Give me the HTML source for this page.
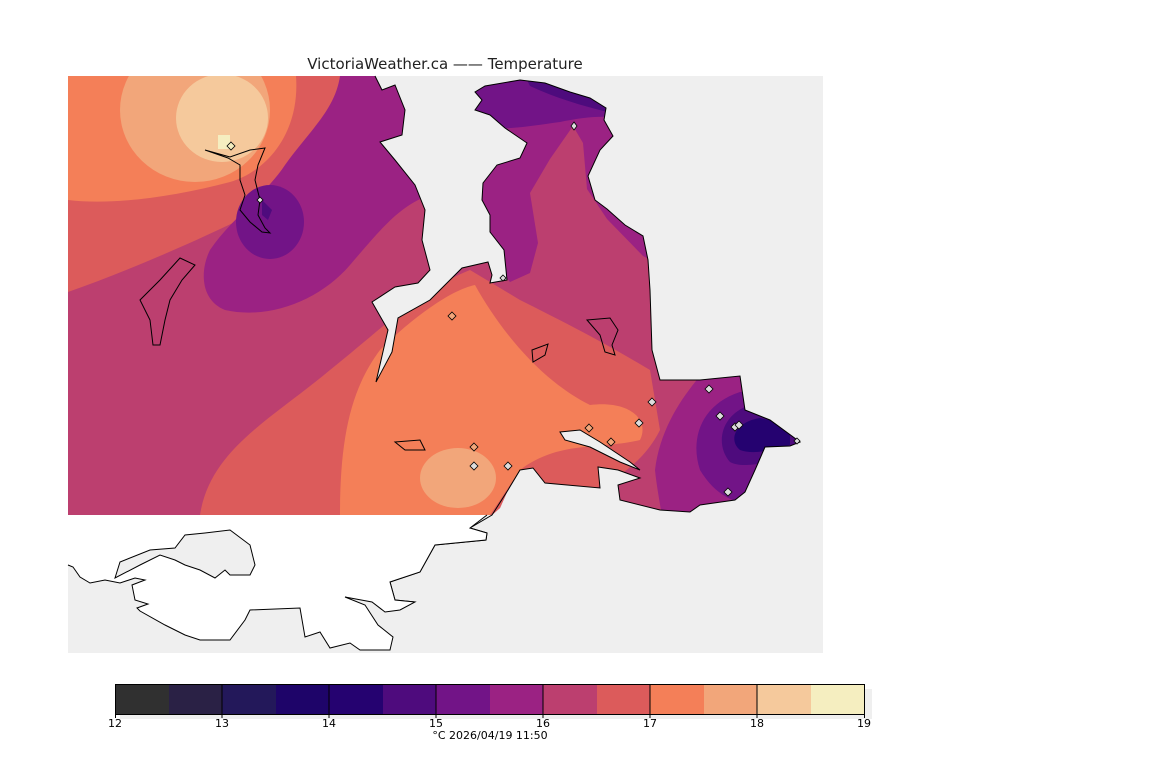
<!DOCTYPE html>
<html><head><meta charset="utf-8"><style>
body{margin:0;background:#fff;width:1152px;height:768px;overflow:hidden}
svg{display:block}
text{font-family:"DejaVu Sans","Liberation Sans",sans-serif}
</style></head><body>
<svg width="1152" height="768" viewBox="0 0 1152 768">
<defs>
<clipPath id="land"><path id="lp" d="M68,76 L375,76 L382,90 L395,85 L405,110 L402,135 L380,142 L395,160 L415,185 L425,210 L422,240 L430,270 L418,283 L395,287 L372,302 L388,330 L376,382 L392,352 L398,318 L430,300 L462,268 L488,262 L492,275 L490,283 L507,280 L504,250 L490,232 L490,215 L482,200 L483,183 L497,165 L520,158 L527,143 L505,128 L490,115 L475,110 L482,100 L475,92 L485,86 L520,80 L545,83 L570,92 L590,98 L606,108 L604,120 L613,136 L600,150 L588,176 L595,200 L607,209 L625,225 L643,236 L648,260 L650,290 L652,350 L660,380 L700,380 L740,376 L745,410 L770,420 L800,442 L790,446 L765,447 L755,470 L745,492 L735,500 L700,505 L690,512 L660,510 L620,500 L618,485 L640,478 L618,470 L598,467 L600,488 L545,483 L533,468 L520,470 L508,490 L500,508 L492,515 L68,515 Z"/></clipPath>
</defs>
<rect x="68" y="76" width="755" height="577" fill="#efefef"/>
<g clip-path="url(#land)">
<rect x="68" y="76" width="760" height="440" fill="#bc3f6f"/>
<path d="M68,76 L345,76 C345,140 320,180 270,205 C200,240 130,270 68,292 Z" fill="#dc5b5b"/>
<path d="M68,76 L296,76 C300,130 270,170 230,182 C170,198 110,205 68,200 Z" fill="#f47f58"/>
<ellipse cx="195" cy="110" rx="75" ry="72" fill="#f2a67a"/>
<ellipse cx="222" cy="118" rx="46" ry="44" fill="#f5c99c"/>
<rect x="218" y="135" width="12" height="14" fill="#f5eec0"/>
<path d="M340,76 L430,76 L430,195 C400,205 380,230 350,265 C320,300 270,320 225,310 C200,300 200,270 210,250 C230,220 265,195 285,165 C310,130 335,110 340,76 Z" fill="#9b2283"/>
<ellipse cx="270" cy="222" rx="34" ry="37" fill="#721487"/>
<path d="M262,200 L272,210 L268,220 L262,215 Z" fill="#4e0b7d"/>
<path d="M200,515 C210,450 270,420 330,370 C380,330 420,290 470,270 L520,300 C560,320 600,340 650,370 L660,430 C640,470 600,490 560,500 L530,515 Z" fill="#dc5b5b"/>
<path d="M340,515 C340,440 350,390 380,350 C410,320 450,290 475,285 C500,330 540,380 590,405 C630,400 650,420 640,440 C600,450 560,440 520,470 L490,515 Z" fill="#f47f58"/>
<ellipse cx="458" cy="478" rx="38" ry="30" fill="#f2a67a"/>
<!-- right peninsula -->
<path d="M460,76 L660,76 L660,265 L643,256 L607,219 L587,189 L583,143 L573,126 L550,159 L530,193 L538,243 L530,273 L510,282 L500,270 L495,240 L480,215 L460,210 Z" fill="#9b2283"/>
<path d="M460,76 L620,76 L620,118 C600,115 580,118 560,122 C530,126 510,130 480,128 L460,128 Z" fill="#721487"/>
<path d="M525,76 L620,76 L620,115 C590,108 560,100 530,86 Z" fill="#4e0b7d"/>
<path d="M545,76 L605,76 L605,100 C580,92 560,85 545,80 Z" fill="#250270"/>
<path d="M820,376 L700,376 C680,400 660,430 655,470 C658,500 665,520 660,530 L830,530 Z" fill="#9b2283"/>
<path d="M820,390 L740,392 C700,405 690,440 700,470 C715,495 735,505 760,505 L830,505 Z" fill="#721487"/>
<path d="M820,405 L750,405 C720,415 715,445 730,462 C745,470 770,460 830,455 Z" fill="#4e0b7d"/>
<path d="M760,418 C735,422 728,440 740,450 C755,455 770,450 790,445 L790,425 Z" fill="#250270"/>
</g>
<path d="M375,76 L382,90 L395,85 L405,110 L402,135 L380,142 L395,160 L415,185 L425,210 L422,240 L430,270 L418,283 L395,287 L372,302 L388,330 L376,382 L392,352 L398,318 L430,300 L462,268 L488,262 L492,275 L490,283 L507,280 L504,250 L490,232 L490,215 L482,200 L483,183 L497,165 L520,158 L527,143 L505,128 L490,115 L475,110 L482,100 L475,92 L485,86 L520,80 L545,83 L570,92 L590,98 L606,108 L604,120 L613,136 L600,150 L588,176 L595,200 L607,209 L625,225 L643,236 L648,260 L650,290 L652,350 L660,380 L700,380 L740,376 L745,410 L770,420 L800,442 L790,446 L765,447 L755,470 L745,492 L735,500 L700,505 L690,512 L660,510 L620,500 L618,485 L640,478 L618,470 L598,467 L600,488 L545,483 L533,468 L520,470 L508,490 L492,515 L470,528 L487,533 L486,540 L435,545 L420,572 L390,582 L395,600 L415,602" fill="none" stroke="#000" stroke-width="1"/>
<path d="M560,432 L580,430 L600,442 L630,462 L640,470 L620,462 L590,447 L565,440 Z" fill="#efefef" stroke="#000"/>
<path d="M205,150 L230,157 L250,150 L265,148 L258,165 L255,180 L260,200 L258,215 L265,228 L270,233 L262,232 L250,222 L240,210 L245,195 L240,180 L240,165 L228,158 Z" fill="none" stroke="#000"/>
<path d="M180,258 L195,265 L182,280 L170,300 L165,320 L160,345 L153,345 L150,320 L140,300 L160,280 Z" fill="none" stroke="#000"/>
<path d="M587,320 L610,318 L618,330 L612,345 L615,355 L605,352 L600,335 Z" fill="none" stroke="#000"/>
<path d="M532,350 L548,344 L545,355 L533,362 Z" fill="none" stroke="#000"/>
<path d="M395,442 L420,440 L425,450 L405,450 Z" fill="none" stroke="#000"/>
<path d="M68,515 L487,515 L470,528 L487,533 L486,540 L435,545 L420,572 L390,582 L395,600 L415,602 L400,610 L385,612 L372,602 L345,597 L365,605 L378,625 L393,637 L390,650 L360,650 L350,643 L330,648 L320,632 L305,637 L300,608 L250,610 L245,620 L230,640 L200,640 L185,635 L165,625 L140,611 L137,608 L148,604 L135,600 L132,585 L145,580 L135,578 L120,583 L105,580 L90,583 L80,577 L73,567 L68,565 Z" fill="#fff"/>
<path d="M487,515 L470,528 L487,533 L486,540 L435,545 L420,572 L390,582 L395,600 L415,602 L400,610 L385,612 L372,602 L345,597 L365,605 L378,625 L393,637 L390,650 L360,650 L350,643 L330,648 L320,632 L305,637 L300,608 L250,610 L245,620 L230,640 L200,640 L185,635 L165,625 L140,611 L137,608 L148,604 L135,600 L132,585 L145,580 L135,578 L120,583 L105,580 L90,583 L80,577 L73,567 L68,565" fill="none" stroke="#000"/>
<path d="M115,578 L120,562 L150,550 L175,548 L185,535 L205,533 L230,530 L250,545 L255,565 L250,575 L230,575 L225,570 L215,578 L200,570 L185,565 L175,560 L160,555 L140,565 Z" fill="#efefef" stroke="#000"/>
<g fill="#ddd" stroke="#000" stroke-width="0.8">
<path d="M231,142 l4,4 -4,4 -4,-4z" fill="#f5eec0"/>
<path d="M260,197 l3,3 -3,3 -3,-3z"/>
<path d="M452,312 l4,4 -4,4 -4,-4z" fill="#f2a67a"/>
<path d="M503,275 l3,3 -3,3 -3,-3z"/>
<path d="M574,122 l3,4 -3,4 -3,-4z"/>
<path d="M652,398 l4,4 -4,4 -4,-4z"/>
<path d="M709,385 l4,4 -4,4 -4,-4z"/>
<path d="M720,412 l4,4 -4,4 -4,-4z"/>
<path d="M735,423 l4,4 -4,4 -4,-4z"/>
<path d="M739,421 l4,4 -4,4 -4,-4z"/>
<path d="M797,438 l3,3 -3,3 -3,-3z"/>
<path d="M728,488 l4,4 -4,4 -4,-4z"/>
<path d="M589,424 l4,4 -4,4 -4,-4z" fill="#f2a67a"/>
<path d="M639,419 l4,4 -4,4 -4,-4z"/>
<path d="M611,438 l4,4 -4,4 -4,-4z" fill="#f2a67a"/>
<path d="M474,443 l4,4 -4,4 -4,-4z" fill="#f2a67a"/>
<path d="M474,462 l4,4 -4,4 -4,-4z"/>
<path d="M508,462 l4,4 -4,4 -4,-4z"/>
</g>
<text x="445" y="69" font-size="15" text-anchor="middle" fill="#222">VictoriaWeather.ca —— Temperature</text>
<rect x="120" y="689" width="752" height="30" fill="#efefef"/>
<g stroke="none">
<rect x="115" y="684" width="54" height="30" fill="#303030"/>
<rect x="169" y="684" width="53" height="30" fill="#2a2145"/>
<rect x="222" y="684" width="54" height="30" fill="#23185a"/>
<rect x="276" y="684" width="53" height="30" fill="#1e0469"/>
<rect x="329" y="684" width="54" height="30" fill="#250270"/>
<rect x="383" y="684" width="53" height="30" fill="#4e0b7d"/>
<rect x="436" y="684" width="54" height="30" fill="#721487"/>
<rect x="490" y="684" width="53" height="30" fill="#9b2283"/>
<rect x="543" y="684" width="54" height="30" fill="#bc3f6f"/>
<rect x="597" y="684" width="53" height="30" fill="#dc5b5b"/>
<rect x="650" y="684" width="54" height="30" fill="#f47f58"/>
<rect x="704" y="684" width="53" height="30" fill="#f2a67a"/>
<rect x="757" y="684" width="54" height="30" fill="#f5c99c"/>
<rect x="811" y="684" width="53" height="30" fill="#f5eec0"/>
</g>
<rect x="115.5" y="684.5" width="749" height="30" fill="none" stroke="#000"/>
<g stroke="#000"><line x1="222" y1="684" x2="222" y2="718"/><line x1="329" y1="684" x2="329" y2="718"/><line x1="436" y1="684" x2="436" y2="718"/><line x1="543" y1="684" x2="543" y2="718"/><line x1="650" y1="684" x2="650" y2="718"/><line x1="757" y1="684" x2="757" y2="718"/><line x1="115.5" y1="714" x2="115.5" y2="718"/><line x1="864.5" y1="714" x2="864.5" y2="718"/></g>
<g font-size="11" text-anchor="middle" fill="#000">
<text x="115" y="727">12</text><text x="222" y="727">13</text><text x="329" y="727">14</text><text x="436" y="727">15</text><text x="543" y="727">16</text><text x="650" y="727">17</text><text x="757" y="727">18</text><text x="864" y="727">19</text>
<text x="490" y="739">°C  2026/04/19 11:50</text>
</g>
</svg>
</body></html>
